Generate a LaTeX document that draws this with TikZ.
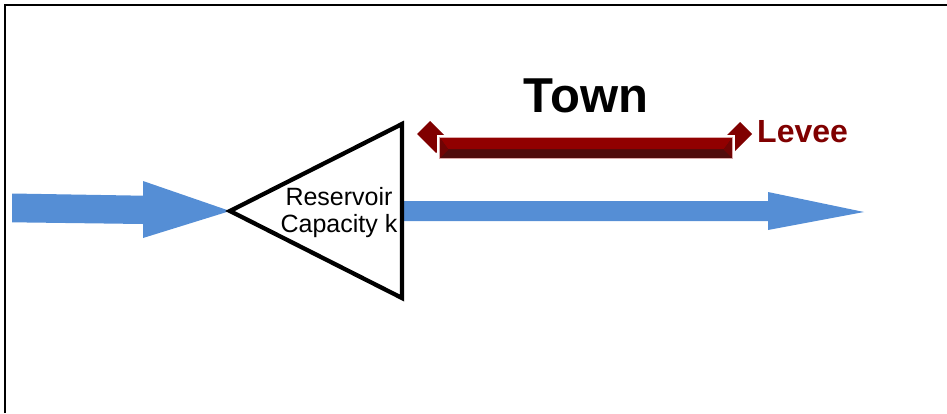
\documentclass[tikz,border=0pt]{standalone}
\usepackage{fontspec}
\setmainfont{Liberation Sans}
\definecolor{flowblue}{RGB}{85,142,213}
\definecolor{leveered}{RGB}{128,0,0}
\definecolor{bartop}{RGB}{145,0,0}
\definecolor{barbot}{RGB}{80,12,12}
\definecolor{barside}{RGB}{112,4,4}
\tikzset{
  flow/.style={fill=flowblue, draw=none},
  frameline/.style={draw=black, line width=1.8pt},
  resbox/.style={draw=black, line width=4.3pt, line join=miter},
  diam/.style={fill=leveered, draw=none},
  lbl/.style={inner sep=0pt, align=center},
}
\begin{document}
\begin{tikzpicture}[x=1pt,y=-1pt]
\useasboundingbox (0,0) rectangle (947,413);
% frame (top and left edges)
\draw[frameline] (5,413) -- (5,5) -- (947,5);
% reservoir triangle
\coordinate (tip) at (230,211);
\coordinate (top) at (402,124);
\coordinate (bot) at (402,298);
% inflow arrow
\fill[flow] (12,193.5) -- (143,195.7) -- (143,181) -- (tip) -- (143,238) -- (143,224) -- (12,222.3) -- cycle;
% outflow arrow
\fill[flow] (402,201) -- (768,201) -- (768,192) -- (864,212) -- (768,230) -- (768,221) -- (402,221) -- cycle;
\draw[resbox] (tip) -- (top) -- (bot) -- cycle;
\node[lbl, font=\fontsize{25}{27}\selectfont, anchor=center] (res) at (339,213) {Reservoir\\Capacity k};
% levee end markers (rotated rectangles, partly behind the bar)
\fill[diam] (417,134) -- (430,121) -- (449,140) -- (436,153) -- cycle;
\fill[diam] (752,134) -- (740,122) -- (722,140) -- (734,152) -- cycle;
% levee bar
\fill[white] (437,135) rectangle (735,161);
\fill[barbot] (440,138) rectangle (732,158);
\fill[bartop] (440,138) -- (732,138) -- (724,149) -- (448,149) -- cycle;
\fill[barside] (440,138) -- (448,149) -- (448,150) -- (440,158) -- cycle;
\fill[barside] (732,138) -- (724,149) -- (724,150) -- (732,158) -- cycle;
\draw[draw={rgb,255:red,220;green,170;blue,170}, line width=0.8pt] (439.5,137.5) rectangle (732.5,158.5);
\node[lbl, font=\fontsize{49}{54}\selectfont\bfseries, anchor=base] (town) at (586,112) {Town};
\node[lbl, font=\fontsize{32}{36}\selectfont\bfseries, text=leveered, anchor=base west] (levee) at (757,142) {Levee};
\end{tikzpicture}
\end{document}
